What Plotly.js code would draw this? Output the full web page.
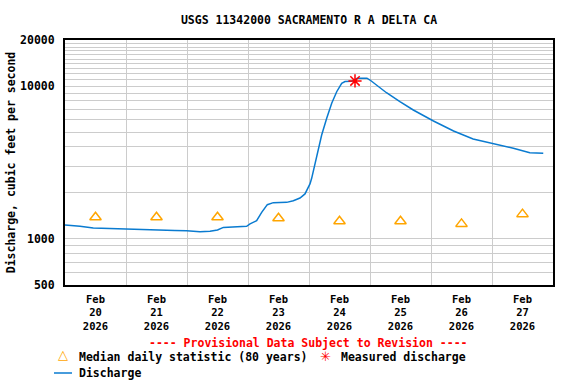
<!DOCTYPE html>
<html>
<head>
<meta charset="utf-8">
<script src="https://cdn.plot.ly/plotly-3.0.1.min.js"></script>
<style>html,body{margin:0;padding:0;background:#fff;}#chart{width:576px;height:384px;}</style>
</head>
<body>
<div id="chart"></div>
<script>
// ---- Data ----
const dischargeTime = [
  "2026-02-20 00:00","2026-02-20 02:24","2026-02-20 05:54","2026-02-20 11:08","2026-02-20 16:48",
  "2026-02-21 00:14","2026-02-21 07:12","2026-02-21 13:22","2026-02-21 19:12","2026-02-21 23:53",
  "2026-02-22 05:07","2026-02-22 09:03","2026-02-22 12:00","2026-02-22 14:18","2026-02-22 19:12",
  "2026-02-22 23:28","2026-02-23 00:48","2026-02-23 02:24","2026-02-23 03:24","2026-02-23 05:23",
  "2026-02-23 07:36","2026-02-23 09:58","2026-02-23 15:13","2026-02-23 17:50","2026-02-23 20:27",
  "2026-02-23 22:25","2026-02-24 00:23","2026-02-24 01:03","2026-02-24 03:01","2026-02-24 04:59",
  "2026-02-24 06:58","2026-02-24 08:56","2026-02-24 10:54","2026-02-24 12:52","2026-02-24 14:10",
  "2026-02-24 16:48","2026-02-24 18:58","2026-02-24 21:22","2026-02-24 22:48","2026-02-25 00:00",
  "2026-02-25 02:38","2026-02-25 06:29","2026-02-25 11:46","2026-02-25 17:02","2026-02-26 00:58",
  "2026-02-26 08:53","2026-02-26 16:34","2026-02-27 00:29","2026-02-27 08:24","2026-02-27 14:53",
  "2026-02-27 20:10"
];
const dischargeValue = [
  1235,1230,1209,1180,1170,
  1160,1150,1140,1135,1130,
  1116,1125,1145,1190,1200,
  1210,1254,1290,1317,1493,
  1676,1728,1735,1779,1853,
  1970,2290,2492,3450,4784,
  6150,7710,9180,10420,10700,
  10740,11230,11300,11250,10950,
  10160,9040,7900,6970,5905,
  5080,4504,4222,3915,3665,
  3630
];
const medianTime = ["2026-02-20 12:00","2026-02-21 12:00","2026-02-22 12:00","2026-02-23 12:00",
                    "2026-02-24 12:00","2026-02-25 12:00","2026-02-26 12:00","2026-02-27 12:00"];
const medianValue = [1385,1385,1385,1365,1307,1307,1255,1453];
const measuredTime = ["2026-02-24 18:06"];
const measuredValue = [10800];

const yTickVals = [500,600,700,800,900,1000,2000,3000,4000,5000,6000,7000,8000,9000,10000,
                   11000,12000,13000,14000,15000,16000,17000,18000,19000,20000];
const yTickText = ["500","","","","","1000","","","","","","","","","10000",
                   "","","","","","","","","","20000"];

const titleText = "USGS 11342000 SACRAMENTO R A DELTA CA";
const yTitle = "Discharge, cubic feet per second";
const provisionalText = "---- Provisional Data Subject to Revision ----";
const legendMedian = "Median daily statistic (80 years)";
const legendMeasured = "Measured discharge";
const legendDischarge = "Discharge";

// ---- Layout helpers (pixel -> paper) ----
const L = 65, R = 553, T = 40, B = 285;
const px = x => (x - L) / (R - L);
const py = y => (B - y) / (B - T);

const FONT = "DejaVu Sans Mono";
const f = (size, color) => ({family: FONT, size: size, color: color || "#000", weight: "bold"});

const traces = [
  {x: dischargeTime, y: dischargeValue, type: "scatter", mode: "lines",
   line: {color: "#0a7bd0", width: 1.5}, name: legendDischarge, hoverinfo: "skip"},
  {x: medianTime, y: medianValue, type: "scatter", mode: "markers",
   marker: {symbol: "triangle-up-open", size: 10, color: "#ffa500", line: {color: "#ffa500", width: 1.5}},
   name: legendMedian, hoverinfo: "skip"},
  {x: measuredTime, y: measuredValue, type: "scatter", mode: "markers",
   marker: {symbol: "asterisk-open", size: 11, color: "#ff0000", line: {color: "#ff0000", width: 1.5}},
   name: legendMeasured, hoverinfo: "skip"}
];

const layout = {
  width: 576, height: 384,
  margin: {l: L, r: 576 - R, t: T, b: 384 - B, pad: 0},
  paper_bgcolor: "#fff", plot_bgcolor: "#fff",
  showlegend: false,
  title: {text: titleText, font: f(11.5), x: px(309), xref: "paper", xanchor: "center",
          y: 1 - 20/384, yref: "container", yanchor: "middle"},
  xaxis: {
    type: "date", range: ["2026-02-20", "2026-02-28"],
    tick0: "2026-02-20", dtick: 86400000, ticklabelmode: "period",
    tickformat: "%b<br>%d<br>%Y", tickfont: f(10.5),
    showgrid: true, gridcolor: "#cccccc", gridwidth: 1,
    ticks: "outside", ticklen: 3, tickcolor: "rgba(0,0,0,0)",
    showline: true, linecolor: "#000", linewidth: 2, mirror: true, zeroline: false
  },
  yaxis: {
    type: "log", range: [Math.log10(500), Math.log10(20000)],
    tickmode: "array", tickvals: yTickVals, ticktext: yTickText, tickfont: f(11.5),
    showgrid: true, gridcolor: "#cccccc", gridwidth: 1,
    ticks: "outside", ticklen: 6, tickcolor: "rgba(0,0,0,0)",
    showline: true, linecolor: "#000", linewidth: 2, mirror: true, zeroline: false,
    title: {text: yTitle, font: f(11.5), standoff: 2}
  },
  annotations: [
    {text: provisionalText, xref: "paper", yref: "paper", x: px(308), y: py(343),
     xanchor: "center", yanchor: "middle", showarrow: false, font: f(11.5, "#ff0000")},
    {text: "△", xref: "paper", yref: "paper", x: px(63), y: py(355),
     xanchor: "center", yanchor: "middle", showarrow: false, font: {family: "DejaVu Sans", size: 13, color: "#ffa500"}},
    {text: legendMedian, xref: "paper", yref: "paper", x: px(77), y: py(357),
     xanchor: "left", yanchor: "middle", showarrow: false, font: f(11.5)},
    {text: "✳", xref: "paper", yref: "paper", x: px(325), y: py(356),
     xanchor: "center", yanchor: "middle", showarrow: false, font: {family: "DejaVu Sans", size: 13, color: "#ff0000"}},
    {text: legendMeasured, xref: "paper", yref: "paper", x: px(339), y: py(357),
     xanchor: "left", yanchor: "middle", showarrow: false, font: f(11.5)},
    {text: legendDischarge, xref: "paper", yref: "paper", x: px(77), y: py(373),
     xanchor: "left", yanchor: "middle", showarrow: false, font: f(11.5)}
  ],
  shapes: [
    {type: "line", xref: "paper", yref: "paper", x0: px(54), x1: px(72), y0: py(373), y1: py(373),
     line: {color: "#0a7bd0", width: 1.5}}
  ]
};

Plotly.newPlot("chart", traces, layout, {displayModeBar: false, staticPlot: true});
</script>
</body>
</html>
